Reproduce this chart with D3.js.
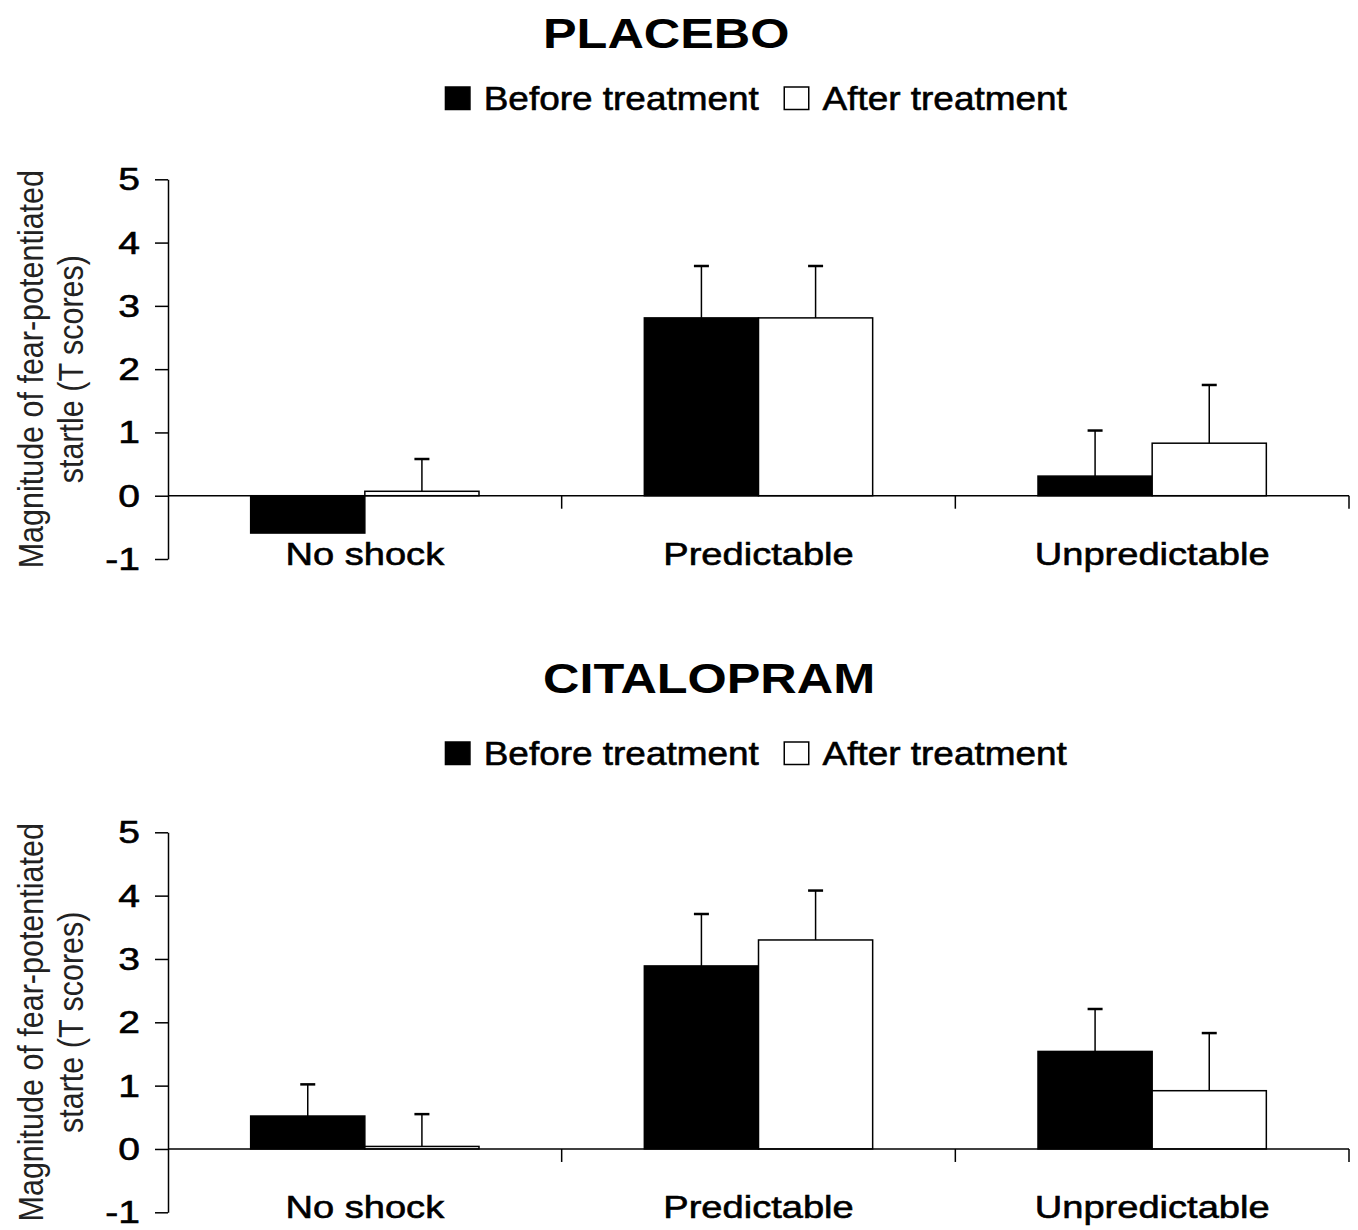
<!DOCTYPE html>
<html>
<head>
<meta charset="utf-8">
<script src="https://cdn.jsdelivr.net/npm/d3@7"></script>
<style>
	html, body { margin: 0; padding: 0; background: #fff; }
	svg text { font-family: "Liberation Sans", Arial, sans-serif; fill: #000; }
	svg text.heavy { stroke: #000; stroke-width: 0.6px; }
</style>
</head>
<body>
<svg id="chart" width="1358" height="1230"></svg>
<script>
// values
var categories = ['No shock', 'Predictable', 'Unpredictable'];
var seriesNames = ['Before treatment', 'After treatment'];
var yTicks = [-1, 0, 1, 2, 3, 4, 5];

var placeboBefore = [-0.59, 2.81, 0.31];
var placeboAfter = [0.07, 2.81, 0.83];
var placeboBeforeErr = [null, 0.82, 0.72];
var placeboAfterErr = [0.51, 0.82, 0.92];

var citalopramBefore = [0.52, 2.89, 1.54];
var citalopramAfter = [0.04, 3.30, 0.92];
var citalopramBeforeErr = [0.50, 0.82, 0.67];
var citalopramAfterErr = [0.51, 0.78, 0.91];

var panels = [
	{
		title: 'PLACEBO',
		yLabel: ['Magnitude of fear-potentiated', 'startle (T scores)'],
		values: [placeboBefore, placeboAfter],
		errors: [placeboBeforeErr, placeboAfterErr],
		titleY: 48, legendY: 110, top: 179.3, bottom: 559
	},
	{
		title: 'CITALOPRAM',
		yLabel: ['Magnitude of fear-potentiated', 'starte (T scores)'],
		values: [citalopramBefore, citalopramAfter],
		errors: [citalopramBeforeErr, citalopramAfterErr],
		titleY: 693, legendY: 765, top: 832.3, bottom: 1212.3
	}
];

var svg = d3.select('#chart');
var left = 168, right = 1349;
var fills = ['#000', '#fff'];

// the original picture is a bit wider than tall, text is stretched sideways
function place(sel, x, y, sx, rot) {
	return sel.attr('transform', 'translate(' + x + ',' + y + ') scale(' + sx + ',1)' + (rot ? ' rotate(' + rot + ')' : ''));
}

var x = d3.scaleBand()
	.domain(categories)
	.range([left, right])
	.paddingInner(0.42)
	.paddingOuter(0.21);

var xSub = d3.scaleBand()
	.domain(seriesNames)
	.range([0, x.bandwidth()]);

panels.forEach(function (p) {
	var g = svg.append('g');

	var y = d3.scaleLinear()
		.domain([-1, 5])
		.range([p.bottom, p.top]);

	// title
	place(g.append('text'), 543, p.titleY, 1.2)
		.attr('font-size', 42)
		.attr('font-weight', 'bold')
		.text(p.title);

	// legend
	var legendX = [444.7, 783.5];
	seriesNames.forEach(function (name, i) {
		g.append('rect')
			.attr('x', legendX[i] + 0.75)
			.attr('y', p.legendY - 23)
			.attr('width', 24.5)
			.attr('height', 22.5)
			.attr('fill', fills[i])
			.attr('stroke', '#000')
			.attr('stroke-width', 1.5);
		place(g.append('text'), legendX[i] + 39, p.legendY, 1.12)
			.attr('class', 'heavy')
			.attr('font-size', 33)
			.text(name);
	});

	// y title, two lines
	p.yLabel.forEach(function (line, i) {
		place(g.append('text'), 43 + i * 40, (p.top + p.bottom) / 2, 1.18, -90)
			.attr('font-size', 30.5)
			.attr('text-anchor', 'middle')
			.style('fill', '#222')
			.text(line);
	});

	// bars
	var groups = g.append('g')
		.selectAll('g')
		.data(categories)
		.enter().append('g')
		.attr('transform', function (c) { return 'translate(' + x(c) + ',0)'; });

	seriesNames.forEach(function (name, s) {
		groups.append('rect')
			.attr('x', xSub(name))
			.attr('y', function (c, i) { return y(Math.max(0, p.values[s][i])); })
			.attr('width', xSub.bandwidth())
			.attr('height', function (c, i) { return Math.abs(y(p.values[s][i]) - y(0)); })
			.attr('fill', fills[s])
			.attr('stroke', '#000')
			.attr('stroke-width', 1.5);
	});

	// error bars (upper only)
	seriesNames.forEach(function (name, s) {
		var cx = xSub(name) + xSub.bandwidth() / 2;
		groups.each(function (c, i) {
			var err = p.errors[s][i];
			if (err == null) return;
			var v = p.values[s][i];
			var eg = d3.select(this);
			eg.append('line')
				.attr('x1', cx).attr('x2', cx)
				.attr('y1', y(v)).attr('y2', y(v + err))
				.attr('stroke', '#000')
				.attr('stroke-width', 1.5);
			eg.append('line')
				.attr('x1', cx - 7.5).attr('x2', cx + 7.5)
				.attr('y1', y(v + err)).attr('y2', y(v + err))
				.attr('stroke', '#000')
				.attr('stroke-width', 2.5);
		});
	});

	// y axis
	var yAxis = g.append('g')
		.attr('transform', 'translate(' + left + ',0)')
		.call(d3.axisLeft(y).tickValues(yTicks).tickSize(13).tickSizeOuter(0).tickFormat(d3.format('d')));
	yAxis.select('.domain').attr('stroke', '#000').attr('stroke-width', 1.5);
	yAxis.selectAll('.tick line').attr('stroke', '#000').attr('stroke-width', 1.5);
	yAxis.selectAll('.tick text')
		.attr('class', 'heavy')
		.attr('x', null)
		.attr('dy', '0.33em')
		.attr('font-size', 32)
		.attr('transform', 'translate(-28,0) scale(1.22,1)')
		.text(function (d) { return d < 0 ? '-' + Math.abs(d) : d; });

	// x axis at zero, ticks between the groups
	g.append('line')
		.attr('x1', left).attr('x2', right)
		.attr('y1', y(0)).attr('y2', y(0))
		.attr('stroke', '#000')
		.attr('stroke-width', 1.5);
	var bounds = categories.map(function (c, i) { return left + x.step() * (i + 1); });
	g.append('g')
		.selectAll('line')
		.data(bounds)
		.enter().append('line')
		.attr('x1', function (d) { return d; })
		.attr('x2', function (d) { return d; })
		.attr('y1', y(0))
		.attr('y2', y(0) + 13)
		.attr('stroke', '#000')
		.attr('stroke-width', 1.5);

	// category labels
	categories.forEach(function (c) {
		place(g.append('text'), x(c) + x.bandwidth() / 2, y(-1) + 6, 1.19)
			.attr('class', 'heavy')
			.attr('font-size', 32)
			.attr('text-anchor', 'middle')
			.text(c);
	});
});
</script>
</body>
</html>
